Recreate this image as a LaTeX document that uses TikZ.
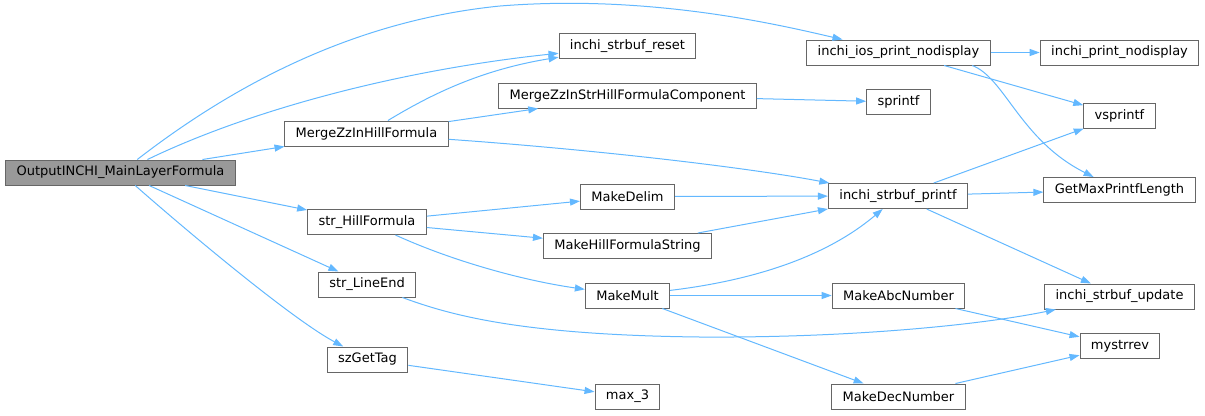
\documentclass[tikz,border=0pt]{standalone}
\usepackage{fontspec}
\setmainfont{DejaVu Sans}
\usepackage{xcolor}
\usepackage{tikz}
\usetikzlibrary{arrows.meta}
\definecolor{edgeblue}{HTML}{63B8FF}
\definecolor{boxgray}{HTML}{666666}
\definecolor{rootgray}{HTML}{999999}

\begin{document}
\begin{tikzpicture}[x=0.75pt,y=-0.75pt,
  fn/.style={draw=boxgray,fill=white,line width=0.75pt,minimum height=18.75pt,
    inner xsep=8.2pt,inner ysep=0pt,font=\fontsize{9.75}{11}\selectfont},
  root/.style={fn,fill=rootgray},
  call/.style={draw=edgeblue,line width=0.75pt,-{Triangle[length=7.5pt,width=5.25pt]}}]
  \useasboundingbox (0,0) rectangle (1205,415);

  % Caller
  \node[root] (out) at (120.5,172.5) {OutputINCHI\_MainLayerFormula};

  % Second column
  \node[fn] (mzh) at (366.5,133.5) {MergeZzInHillFormula};
  \node[fn] (shf) at (367,222) {str\_HillFormula};
  \node[fn] (le) at (367,284.5) {str\_LineEnd};
  \node[fn] (sgt) at (367.5,359.5) {szGetTag};

  % Third column
  \node[fn] (reset) at (627.5,46) {inchi\_strbuf\_reset};
  \node[fn] (comp) at (627.5,95.5) {MergeZzInStrHillFormulaComponent};
  \node[fn] (delim) at (627.5,196.5) {MakeDelim};
  \node[fn] (mhfs) at (627.5,246) {MakeHillFormulaString};
  \node[fn] (mult) at (627.5,295.5) {MakeMult};
  \node[fn] (max3) at (627.5,396.5) {max\_3};

  % Fourth column
  \node[fn] (ios) at (898.5,52.5) {inchi\_ios\_print\_nodisplay};
  \node[fn] (spf) at (898.5,102) {sprintf};
  \node[fn] (sbp) at (898,196) {inchi\_strbuf\_printf};
  \node[fn] (abc) at (898.5,295.5) {MakeAbcNumber};
  \node[fn] (dec) at (898.5,396.5) {MakeDecNumber};

  % Fifth column
  \node[fn] (ipn) at (1119.5,52.5) {inchi\_print\_nodisplay};
  \node[fn] (vspf) at (1119.5,115.5) {vsprintf};
  \node[fn] (gml) at (1119.5,190) {GetMaxPrintfLength};
  \node[fn] (upd) at (1119.5,296.5) {inchi\_strbuf\_update};
  \node[fn] (mys) at (1120,346) {mystrrev};

  % Calls from OutputINCHI_MainLayerFormula
  \draw[call] (out) .. controls (240,80) and (360,20) .. (500,6)
    .. controls (650,-6) and (780,25) .. (ios);
  \draw[call] (out) .. controls (250,110) and (400,70) .. (reset);
  \draw[call] (out) -- (mzh);
  \draw[call] (out) -- (shf);
  \draw[call] (out) -- (le);
  \draw[call] (out) .. controls (180,225) and (290,318) .. (sgt);

  % Calls from MergeZzInHillFormula
  \draw[call] (mzh) .. controls (430,95) and (480,70) .. (reset);
  \draw[call] (mzh) -- (comp);
  \draw[call] (mzh) .. controls (600,150) and (750,168) .. (sbp);
  \draw[call] (comp) -- (spf);

  % Calls from str_HillFormula
  \draw[call] (shf) -- (delim);
  \draw[call] (shf) -- (mhfs);
  \draw[call] (shf) .. controls (450,260) and (520,280) .. (mult);
  \draw[call] (delim) -- (sbp);
  \draw[call] (mhfs) -- (sbp);

  % Calls from MakeMult
  \draw[call] (mult) .. controls (740,282) and (820,262) .. (sbp);
  \draw[call] (mult) -- (abc);
  \draw[call] (mult) -- (dec);
  \draw[call] (abc) -- (mys);
  \draw[call] (dec) -- (mys);

  % Calls from inchi_ios_print_nodisplay and inchi_strbuf_printf
  \draw[call] (ios) -- (ipn);
  \draw[call] (ios) -- (vspf);
  \draw[call] (ios.-10) .. controls (1005,78) and (1020,140) .. (gml);
  \draw[call] (sbp) -- (vspf);
  \draw[call] (sbp) -- (gml);
  \draw[call] (sbp) -- (upd);

  % Remaining calls
  \draw[call] (le) .. controls (450,315) and (520,335) .. (700,337)
    .. controls (850,338) and (980,325) .. (upd);
  \draw[call] (sgt) -- (max3);
\end{tikzpicture}
\end{document}
